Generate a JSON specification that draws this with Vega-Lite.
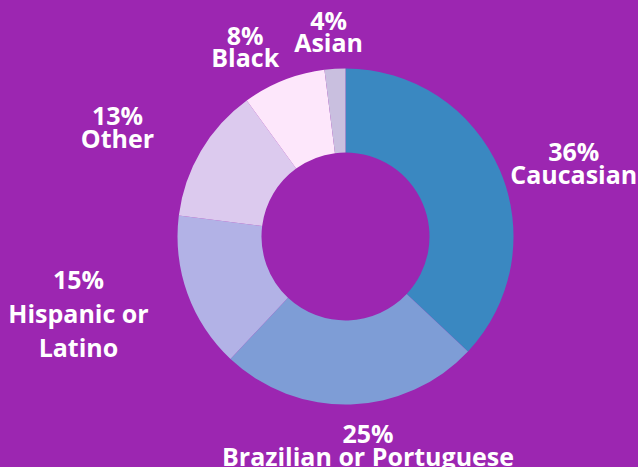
{
  "$schema": "https://vega.github.io/schema/vega-lite/v6.json",
  "autosize": "none",
  "width": 585,
  "height": 461,
  "padding": {"left": 53, "top": 6, "right": 0, "bottom": 0},
  "background": "#9c26b1",
  "config": {"view": {"stroke": null}},
  "data": {
    "values": [
      {"group": "Caucasian", "share": 37, "label": "36%\nCaucasian"},
      {"group": "Brazilian or Portuguese", "share": 25, "label": "25%\nBrazilian or Portuguese"},
      {"group": "Hispanic or Latino", "share": 15, "label": "15%\nHispanic or\nLatino"},
      {"group": "Other", "share": 13, "label": "13%\nOther"},
      {"group": "Black", "share": 8, "label": "8%\nBlack"},
      {"group": "Asian", "share": 2, "label": "4%\nAsian"}
    ]
  },
  "encoding": {
    "theta": {"field": "share", "type": "quantitative", "stack": true, "scale": {"domain": [0, 100]}},
    "order": {"field": "share", "sort": "descending"}
  },
  "layer": [
    {
      "mark": {"type": "arc", "outerRadius": 168, "innerRadius": 84},
      "encoding": {
        "color": {
          "field": "group", "type": "nominal", "legend": null,
          "scale": {
            "domain": ["Caucasian", "Brazilian or Portuguese", "Hispanic or Latino", "Other", "Black", "Asian"],
            "range": ["#3a88c1", "#7e9dd6", "#b2b2e6", "#dccaee", "#fde7fb", "#c9bfdf"]
          }
        }
      }
    },
    {
      "mark": {"type": "text", "radius": 240, "dx": 8, "dy": 12, "font": "Open Sans", "fontWeight": "bold", "fontSize": 25, "lineHeight": 23, "color": "white", "align": "center", "baseline": "middle", "lineBreak": "\n"},
      "encoding": {"text": {"condition": {"test": "datum.group === 'Caucasian'", "field": "label"}, "value": ""}}
    },
    {
      "mark": {"type": "text", "radius": 208, "dx": 16, "dy": -9, "font": "Open Sans", "fontWeight": "bold", "fontSize": 25, "lineHeight": 23, "color": "white", "align": "center", "baseline": "middle", "lineBreak": "\n"},
      "encoding": {"text": {"condition": {"test": "datum.group === 'Brazilian or Portuguese'", "field": "label"}, "value": ""}}
    },
    {
      "mark": {"type": "text", "radius": 270, "dx": -13, "dy": -47, "font": "Open Sans", "fontWeight": "bold", "fontSize": 25, "lineHeight": 34, "color": "white", "align": "center", "baseline": "middle", "lineBreak": "\n"},
      "encoding": {"text": {"condition": {"test": "datum.group === 'Hispanic or Latino'", "field": "label"}, "value": ""}}
    },
    {
      "mark": {"type": "text", "radius": 251, "dx": -12, "dy": 8, "font": "Open Sans", "fontWeight": "bold", "fontSize": 25, "lineHeight": 23, "color": "white", "align": "center", "baseline": "middle", "lineBreak": "\n"},
      "encoding": {"text": {"condition": {"test": "datum.group === 'Other'", "field": "label"}, "value": ""}}
    },
    {
      "mark": {"type": "text", "radius": 210, "dx": -23, "dy": -4, "font": "Open Sans", "fontWeight": "bold", "fontSize": 25, "lineHeight": 22, "color": "white", "align": "center", "baseline": "middle", "lineBreak": "\n"},
      "encoding": {"text": {"condition": {"test": "datum.group === 'Black'", "field": "label"}, "value": ""}}
    },
    {
      "mark": {"type": "text", "radius": 206, "dx": -4, "dy": -9, "font": "Open Sans", "fontWeight": "bold", "fontSize": 25, "lineHeight": 22, "color": "white", "align": "center", "baseline": "middle", "lineBreak": "\n"},
      "encoding": {"text": {"condition": {"test": "datum.group === 'Asian'", "field": "label"}, "value": ""}}
    }
  ]
}
